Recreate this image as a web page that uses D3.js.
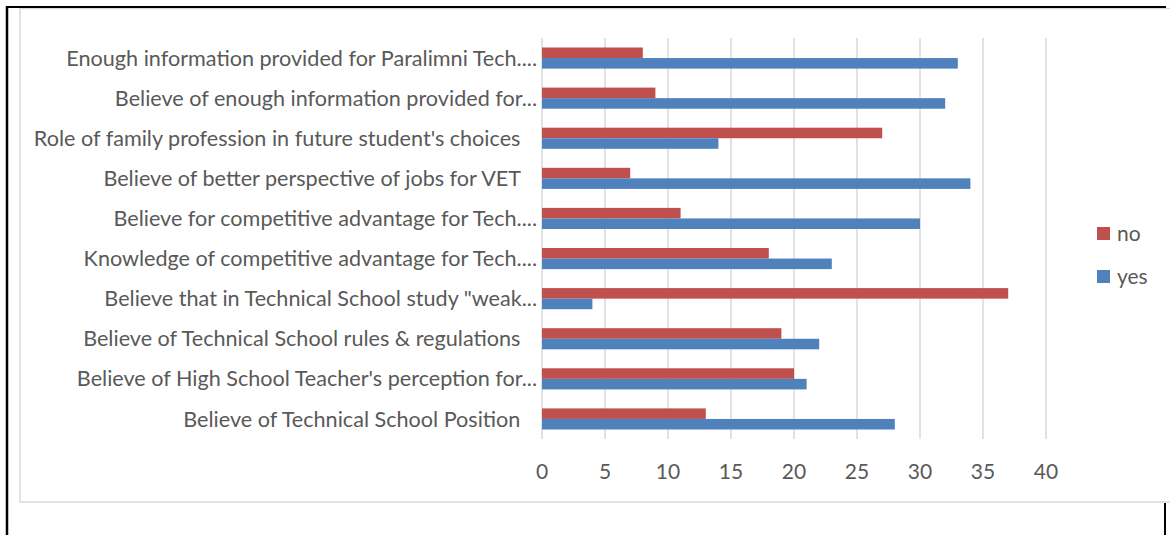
<!DOCTYPE html>
<html lang="en">
<head>
  <meta charset="UTF-8" />
  <title>Survey answers</title>
  <script src="https://d3js.org/d3.v7.min.js"></script>
  <style>
    html, body { margin: 0; background: #fff; }
    svg { display: block; font-family: Lato, sans-serif; }
    .cat { font-size: 21.6px; fill: #595959; }
    .tick-label { font-size: 21px; fill: #595959; }
    .legend-label { font-size: 21px; fill: #595959; }
    .grid { stroke: #d9d9d9; stroke-width: 1.5px; }
  </style>
</head>
<body>
  <svg id="chart" width="1170" height="535"></svg>

  <script>
    // ----- data (top to bottom) -----
    const categories = [
      "Enough information provided for Paralimni Tech....",
      "Believe of enough information provided for...",
      "Role of family profession in future student's choices\u00A0\u00A0\u00A0",
      "Believe of better perspective of jobs for VET\u00A0\u00A0\u00A0",
      "Believe for competitive advantage for Tech....",
      "Knowledge of competitive advantage for Tech....",
      "Believe that in Technical School study \"weak...",
      "Believe of Technical School rules & regulations\u00A0\u00A0\u00A0",
      "Believe of High School Teacher's perception for...",
      "Believe of Technical School Position\u00A0\u00A0\u00A0"
    ];
    const noValues  = [8, 9, 27, 7, 11, 18, 37, 19, 20, 13];
    const yesValues = [33, 32, 14, 34, 30, 23, 4, 22, 21, 28];
    const seriesNames = ["no", "yes"];
    const xTicks = [0, 5, 10, 15, 20, 25, 30, 35, 40];

    const colors = { no: "#C0504D", yes: "#4F81BD" };

    const svg = d3.select('#chart');

    // frame (page border + chart area border)
    svg.append('rect')
      .attr('x', 20).attr('y', 8.5)
      .attr('width', 1170).attr('height', 493.5)
      .attr('fill', 'none')
      .attr('stroke', '#d9d9d9')
      .attr('stroke-width', 1.5);
    svg.append('line').attr('x1', 6).attr('x2', 1166).attr('y1', 7).attr('y2', 7)
      .attr('stroke', '#000').attr('stroke-width', 2);
    svg.append('line').attr('x1', 7).attr('x2', 7).attr('y1', 6).attr('y2', 535)
      .attr('stroke', '#000').attr('stroke-width', 2.5);
    svg.append('line').attr('x1', 1165).attr('x2', 1165).attr('y1', 503).attr('y2', 535)
      .attr('stroke', '#000').attr('stroke-width', 2);

    // scales
    const x = d3.scaleLinear().domain([0, 40]).range([542, 1046]);
    const y = d3.scaleBand().domain(categories).range([38, 439]).padding(0);
    const groupH = y.bandwidth() / 1.9;
    const ySub = d3.scaleBand().domain(seriesNames)
      .range([(y.bandwidth() - groupH) / 2, (y.bandwidth() + groupH) / 2]);

    // gridlines
    svg.append('g').selectAll('line')
      .data(xTicks)
      .enter().append('line')
        .attr('class', 'grid')
        .attr('x1', d => x(d)).attr('x2', d => x(d))
        .attr('y1', 38).attr('y2', 439);

    // tick labels
    svg.append('g').selectAll('text')
      .data(xTicks)
      .enter().append('text')
        .attr('class', 'tick-label')
        .attr('x', d => x(d))
        .attr('y', 472)
        .attr('text-anchor', 'middle')
        .attr('dy', '0.35em')
        .text(d => d);

    // bars
    const rows = categories.map((c, i) => ({ cat: c, no: noValues[i], yes: yesValues[i] }));
    const group = svg.append('g').selectAll('g')
      .data(rows)
      .enter().append('g')
        .attr('transform', d => `translate(0,${y(d.cat)})`);

    group.selectAll('rect')
      .data(d => seriesNames.map(s => ({ key: s, value: d[s] })))
      .enter().append('rect')
        .attr('x', x(0))
        .attr('y', d => ySub(d.key))
        .attr('width', d => x(d.value) - x(0))
        .attr('height', ySub.bandwidth())
        .attr('fill', d => colors[d.key]);

    // category labels
    svg.append('g').selectAll('text')
      .data(categories)
      .enter().append('text')
        .attr('class', 'cat')
        .attr('x', 537)
        .attr('y', d => y(d) + y.bandwidth() / 2)
        .attr('dy', '0.35em')
        .attr('text-anchor', 'end')
        .text(d => d);

    // legend
    const legend = svg.append('g').selectAll('g')
      .data(seriesNames)
      .enter().append('g')
        .attr('transform', (d, i) => `translate(1097,${227 + i * 43})`);
    legend.append('rect')
      .attr('width', 13).attr('height', 13)
      .attr('fill', d => colors[d]);
    legend.append('text')
      .attr('class', 'legend-label')
      .attr('x', 20).attr('y', 7)
      .attr('dy', '0.35em')
      .text(d => d);
  </script>
</body>
</html>
